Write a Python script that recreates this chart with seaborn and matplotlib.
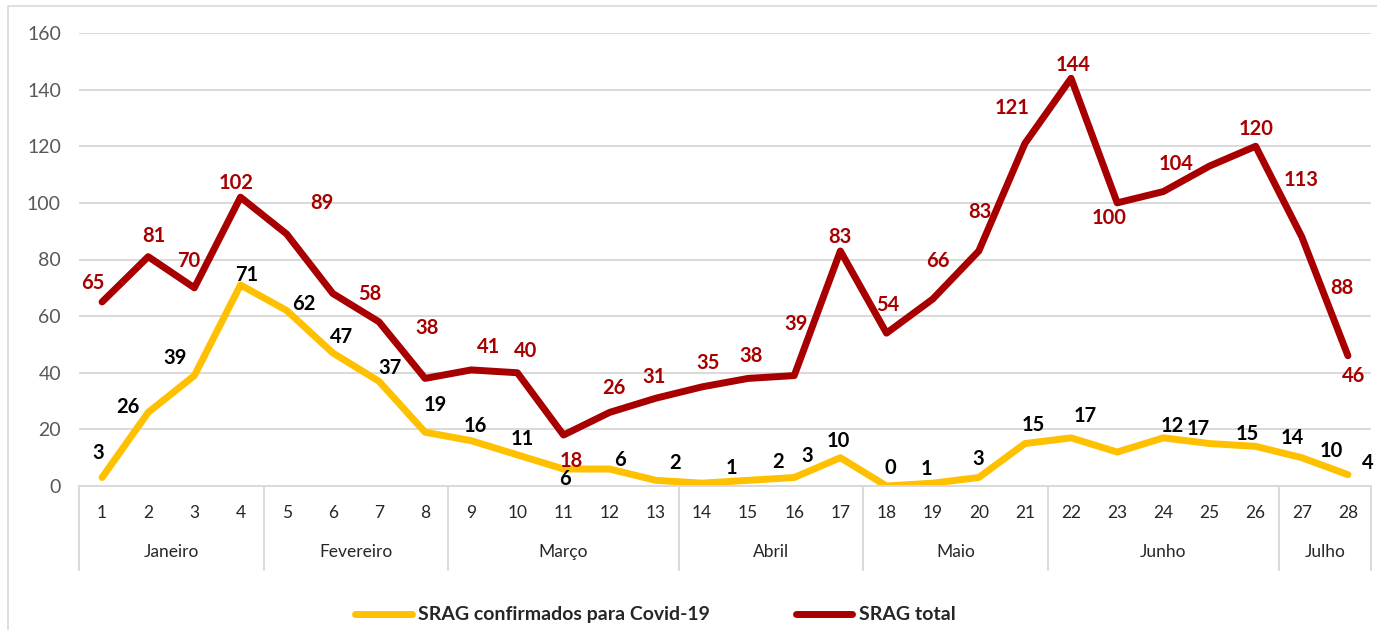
import matplotlib
matplotlib.use("Agg")
import numpy as np
import pandas as pd
import matplotlib.pyplot as plt
import matplotlib.transforms as mtransforms
from matplotlib.lines import Line2D
from matplotlib.patches import Rectangle
import seaborn as sns

# dados (semanas epidemiologicas)
weeks = list(range(1, 29))
srag_covid = [3, 26, 39, 71, 62, 47, 37, 19, 16, 11, 6, 6, 2, 1, 2, 3, 10,
              0, 1, 3, 15, 17, 12, 17, 15, 14, 10, 4]
srag_total = [65, 81, 70, 102, 89, 68, 58, 38, 41, 40, 18, 26, 31, 35, 38, 39,
              83, 54, 66, 83, 121, 144, 100, 104, 113, 120, 88, 46]
months = ["Janeiro", "Fevereiro", "Março", "Abril", "Maio", "Junho", "Julho"]
weeks_per_month = [4, 4, 5, 4, 4, 5, 2]
series_names = ["SRAG confirmados para Covid-19", "SRAG total"]

# label offsets (pixels, dx right / dy down) to mimic the original placement
covid_offsets = [(-4, -25), (-20, -5), (-19, -18), (6, -10), (17, -6), (9, -16),
                 (11, -13), (10, -27), (4, -15), (5, -16), (2, 10), (10, -9),
                 (19, -17), (30, -15), (30, -18), (13, -22), (-2, -17), (4, -18),
                 (-6, -14), (-1, -19), (8, -19), (14, -22), (55, -26), (35, -9),
                 (38, -10), (37, -8), (30, -7), (20, -12)]
total_offsets = [(-9, -19), (6, -21), (-6, -27), (-4, -14), (35, -31), None,
                 (-9, -28), (2, -50), (17, -23), (8, -22), (8, 26), (4, -24),
                 (-2, -21), (6, -24), (3, -22), (2, -52), (0, -14), (1, -28),
                 (5, -38), (1, -39), (-13, -35), (2, -13), (-8, 15), (13, -28),
                 (92, 14), (0, -17), (40, 51), (6, 20)]

YELLOW = "#FFC000"
RED = "#A80000"
GRID = "#D9D9D9"

df = pd.DataFrame({
    "semana": weeks * 2,
    "casos": srag_covid + srag_total,
    "serie": [series_names[0]] * len(weeks) + [series_names[1]] * len(weeks),
})

sns.set_style("white")
plt.rcParams["font.family"] = ["Lato", "DejaVu Sans"]

W, H = 1377, 630
fig = plt.figure(figsize=(W / 100, H / 100), dpi=100)
ax = fig.add_axes([79 / W, 1 - 486 / H, (1371 - 79) / W, (486 - 33) / H])

sns.lineplot(data=df, x="semana", y="casos", hue="serie", sort=False,
             palette={series_names[0]: YELLOW, series_names[1]: RED},
             linewidth=5, legend=False, ax=ax)
for ln in ax.lines:
    ln.set_solid_capstyle("round")
    ln.set_solid_joinstyle("round")

ax.set_xlim(0.5, 28.5)
ax.set_ylim(0, 160)
ax.set_yticks(range(0, 161, 20))
ax.yaxis.grid(True, color=GRID, linewidth=1.4)
ax.set_axisbelow(True)
for s in ["top", "left", "right"]:
    ax.spines[s].set_visible(False)
ax.spines["bottom"].set_color(GRID)
ax.spines["bottom"].set_linewidth(1.4)
ax.set_xlabel("")
ax.set_ylabel("")

ax.set_xticks(weeks)
ax.set_xticklabels([str(w) for w in weeks])
ax.tick_params(axis="x", length=0, pad=14, labelsize=12.5, labelcolor="#262626")
ax.tick_params(axis="y", length=0, pad=13, labelsize=14, labelcolor="#595959")

# month category row
trans = mtransforms.blended_transform_factory(ax.transData, ax.transAxes)
bounds = np.concatenate([[0], np.cumsum(weeks_per_month)]) + 0.5
for b in bounds:
    ax.plot([b, b], [0, -0.185], transform=trans, color=GRID, lw=1.4, clip_on=False)
for i, m in enumerate(months):
    ax.text((bounds[i] + bounds[i + 1]) / 2, -0.146, m, transform=trans,
            ha="center", va="center", fontsize=12.5, color="#262626")

# data labels
for w, v, off in zip(weeks, srag_covid, covid_offsets):
    ax.annotate(str(v), (w, v), xytext=(off[0], -off[1]), textcoords="offset pixels",
                ha="center", va="center", fontsize=14.5, fontweight="bold",
                color="black", annotation_clip=False)
for w, v, off in zip(weeks, srag_total, total_offsets):
    if off is None:
        continue
    ax.annotate(str(v), (w, v), xytext=(off[0], -off[1]), textcoords="offset pixels",
                ha="center", va="center", fontsize=14.5, fontweight="bold",
                color=RED, annotation_clip=False)

# legend
handles = [Line2D([], [], color=YELLOW, lw=5), Line2D([], [], color=RED, lw=5)]
fig.legend(handles, series_names, loc="center", bbox_to_anchor=(0.476, 0.024),
           ncol=2, frameon=False, handlelength=2.9, handletextpad=0.35,
           columnspacing=4.4, prop={"weight": "bold", "size": 14})

# outer chart frame
fig.patches.append(Rectangle((8 / W, -0.1), 2, 1 - 6 / H + 0.1, transform=fig.transFigure,
                             fill=False, edgecolor=GRID, linewidth=1.2))

fig.savefig("out.png", dpi=100)
